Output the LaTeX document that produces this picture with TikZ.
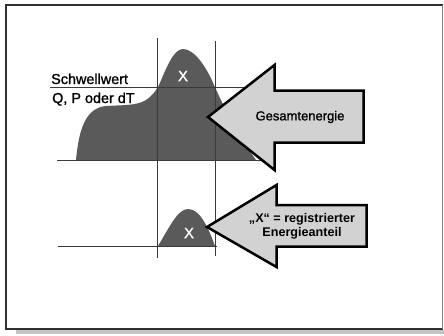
\documentclass[tikz,border=0pt]{standalone}
\usepackage{fontspec}
\setmainfont{Liberation Sans}
\newfontfamily\medfont[FakeBold=1.2]{Liberation Sans}
\definecolor{shapegray}{HTML}{5A5A5A}
\definecolor{arrowgray}{HTML}{D2D2D2}
\definecolor{framegray}{HTML}{303030}
\definecolor{gridgray}{HTML}{3A3A3A}
\definecolor{shadowgray}{HTML}{C4C4C4}
\begin{document}
\begin{tikzpicture}[x=1pt,y=-1pt,
  grid/.style={draw=gridgray,line width=0.9pt},
  bump/.style={fill=shapegray},
  bigarrow/.style={draw=black,fill=arrowgray,line width=2.5pt,line join=miter},
  lbl/.style={font=\medfont\fontsize{14.4}{16}\selectfont,anchor=base west,inner sep=0pt},
  xlbl/.style={font=\medfont\fontsize{15}{16}\selectfont,text=white,inner sep=0pt}]
\useasboundingbox (0,0) rectangle (444,335);
% frame and shadow
\fill[shadowgray] (16,329.5) rectangle (444,333.5);
\draw[framegray,line width=2pt] (442.5,4.8) -- (6,4.8) -- (6,329) -- (442.5,329);
\draw[gray,line width=1pt] (442.5,4.8) -- (442.5,329);
% big energy shape
\fill[bump] (76,160) .. controls (79,128) and (86,108) .. (106,106)
  .. controls (120,105) and (137,106) .. (146,100)
  .. controls (153,95) and (155,92) .. (159,85)
  .. controls (167,66) and (174,49) .. (183,49)
  .. controls (194,49) and (206,66) .. (214,85)
  .. controls (225,110) and (240,138) .. (256,160) -- cycle;
% small registered shape
\fill[bump] (158,246) .. controls (170,226) and (178,209) .. (188,209)
  .. controls (199,209) and (207,224) .. (215,246) -- cycle;
% grid lines
\coordinate (v1t) at (157.5,38); \coordinate (v1b) at (157.5,258);
\coordinate (v2t) at (215,41); \coordinate (v2b) at (215,256);
\coordinate (b1l) at (57,160); \coordinate (b1r) at (262,160);
\coordinate (thl) at (50,87.5); \coordinate (thr) at (250,87.5);
\coordinate (b2l) at (58,246); \coordinate (b2r) at (217,246);
\draw[grid] (v1t) -- (v1b);
\draw[grid] (v2t) -- (v2b);
\draw[grid] (b1l) -- (b1r);
\draw[grid] (thl) -- (thr);
\draw[grid] (b2l) -- (b2r);
% labels
\node[lbl] (schwelle) at (51,84) {Schwellwert};
\node[lbl] (qpdt) at (52,103) {Q, P oder dT};
\node[xlbl] (x1) at (183,76) {X};
\node[xlbl] (x2) at (189,233) {X};
% arrows
\draw[bigarrow] (208,117) -- (274.5,65) -- (274.5,90.5) -- (363.5,90.5) -- (363.5,142.5) -- (274.5,142.5) -- (274.5,170) -- cycle;
\node[font=\medfont\fontsize{13}{15}\selectfont,inner sep=0pt] (gesamt) at (300,117) {Gesamtenergie};
\draw[bigarrow] (207,227) -- (276.5,185) -- (276.5,205) -- (366.5,205) -- (366.5,246.5) -- (276.5,246.5) -- (276.5,267) -- cycle;
\node[font=\bfseries\fontsize{12.6}{14}\selectfont,align=center,inner sep=0pt] (anteil) at (302,226) {„X“ = registrierter\\Energieanteil};
\end{tikzpicture}
\end{document}
